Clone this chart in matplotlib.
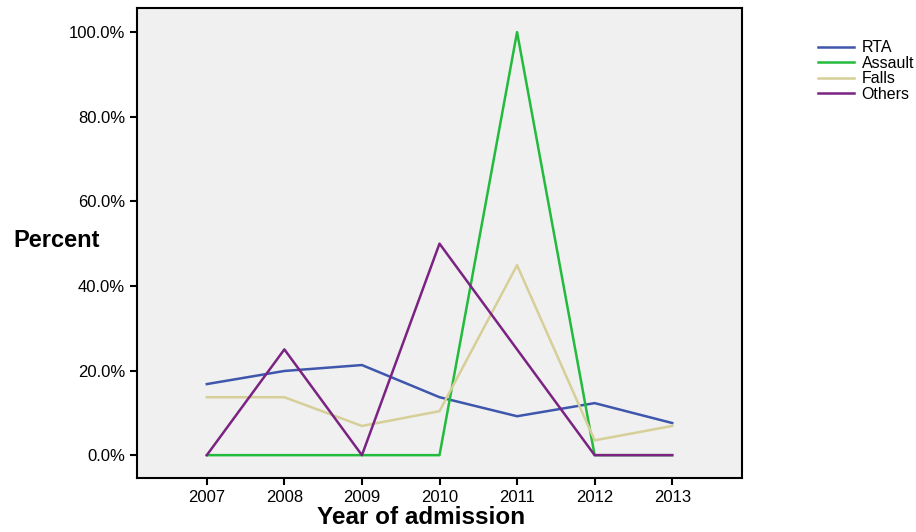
import matplotlib.pyplot as plt
from matplotlib.ticker import PercentFormatter

plt.rcParams["font.family"] = ["Liberation Sans", "DejaVu Sans"]

years = [2007, 2008, 2009, 2010, 2011, 2012, 2013]
rta = [16.8, 19.9, 21.3, 13.7, 9.2, 12.3, 7.6]
assault = [0, 0, 0, 0, 100, 0, 0]
falls = [13.7, 13.7, 6.9, 10.4, 44.9, 3.5, 6.9]
others = [0, 25, 0, 50, 25, 0, 0]

series = [
    ("RTA", rta, "#3f56ad"),
    ("Assault", assault, "#22bb3c"),
    ("Falls", falls, "#d6cf98"),
    ("Others", others, "#7b2382"),
]

fig = plt.figure(figsize=(9.16, 5.32), dpi=100)
ax = fig.add_axes([137 / 916, 1 - 478 / 532, (742 - 137) / 916, (478 - 8) / 532])
ax.set_facecolor("#f0f0f0")

for name, vals, color in series:
    ax.plot(years, vals, color=color, lw=1.8, label=name)

ax.set_xlim(2006.1, 2013.9)
ax.set_ylim(-5.4, 105.7)
ax.set_xticks(years)
ax.set_yticks([0, 20, 40, 60, 80, 100])
ax.yaxis.set_major_formatter(PercentFormatter(decimals=1))
ax.tick_params(direction="out", length=5, width=1.5, labelsize=12)
for sp in ax.spines.values():
    sp.set_linewidth(1.5)

ax.set_xlabel("Year of admission", fontsize=17.5, fontweight="bold", va="center")
ax.xaxis.set_label_coords((421 - 137) / 605, -(518 - 478) / 470)
ax.set_ylabel("Percent", fontsize=17, fontweight="bold", rotation=0, ha="left", va="center")
ax.yaxis.set_label_coords(-124 / 605, (478 - 240) / 470)

fig.legend(
    loc="upper left",
    bbox_to_anchor=(812 / 916, 1 - 34 / 532),
    frameon=False,
    fontsize=11.5,
    labelspacing=0.03,
    handlelength=2.2,
    handletextpad=0.5,
    borderaxespad=0,
)

fig.savefig("out.png", dpi=100)
